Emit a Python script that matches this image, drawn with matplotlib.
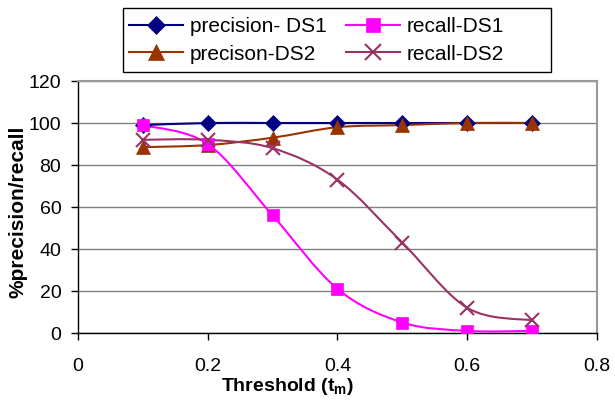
import matplotlib
matplotlib.use("Agg")
import matplotlib.pyplot as plt
from matplotlib.path import Path
from matplotlib.patches import PathPatch, Rectangle
from matplotlib.lines import Line2D

# data
threshold = [0.1, 0.2, 0.3, 0.4, 0.5, 0.6, 0.7]
precision_ds1 = [99, 100, 100, 100, 100, 100, 100]
recall_ds1 = [99, 90, 56, 21, 5, 1, 1]
precision_ds2 = [88.5, 89.5, 93, 98, 99, 100, 100]
recall_ds2 = [92, 92, 88, 73, 43, 12, 6]

plt.rcParams['font.family'] = ['Liberation Sans', 'DejaVu Sans']


def smooth_path(xs, ys):
    # excel-like smoothed line: cubic bezier segments (catmull-rom style)
    verts = [(xs[0], ys[0])]
    codes = [Path.MOVETO]
    n = len(xs)
    for i in range(n - 1):
        x0, y0 = (xs[i - 1], ys[i - 1]) if i > 0 else (xs[i], ys[i])
        x1, y1 = xs[i], ys[i]
        x2, y2 = xs[i + 1], ys[i + 1]
        x3, y3 = (xs[i + 2], ys[i + 2]) if i + 2 < n else (x2, y2)
        c1 = (x1 + (x2 - x0) / 6, y1 + (y2 - y0) / 6)
        c2 = (x2 - (x3 - x1) / 6, y2 - (y3 - y1) / 6)
        verts += [c1, c2, (x2, y2)]
        codes += [Path.CURVE4] * 3
    return Path(verts, codes)


series = [
    (precision_ds1, "precision- DS1", "#000080", "D", 8),
    (precision_ds2, "precison-DS2", "#993300", "^", 10),
    (recall_ds1, "recall-DS1", "#FF00FF", "s", 9),
    (recall_ds2, "recall-DS2", "#993366", "x", 10),
]

fig = plt.figure(figsize=(6.15, 4), dpi=100)
ax = fig.add_axes([0.1268, 0.1675, 0.8439, 0.63])

handles = []
for ys, label, col, mk, ms in series:
    mew = 1.5 if mk == 'x' else 0.5
    ax.add_patch(PathPatch(smooth_path(threshold, ys), facecolor='none',
                           edgecolor=col, lw=1.5, zorder=3))
    ax.plot(threshold, ys, linestyle='none', marker=mk, markersize=ms,
            color=col, markeredgewidth=mew, zorder=4)
    handles.append(Line2D([], [], color=col, lw=1.5, marker=mk,
                          markersize=ms, markeredgewidth=mew))

ax.set_xlim(0, 0.8)
ax.set_ylim(0, 120)
ax.set_xticks([0, 0.2, 0.4, 0.6, 0.8])
ax.set_xticklabels(["0", "0.2", "0.4", "0.6", "0.8"])
ax.set_yticks(range(0, 121, 20))
ax.tick_params(labelsize=14, length=5, width=1, direction='out')
ax.tick_params(axis='x', pad=13)
ax.tick_params(axis='y', pad=7)
ax.yaxis.grid(True, color='#808080', lw=1)
ax.set_axisbelow(True)

for s in ['top', 'right']:
    ax.spines[s].set_color('#999999')
    ax.spines[s].set_linewidth(1.5)
for s in ['left', 'bottom']:
    ax.spines[s].set_color('black')
    ax.spines[s].set_linewidth(1)

ax.set_xlabel(r"Threshold (t$_\mathregular{m}$)", fontsize=14, fontweight='bold')
ax.set_ylabel("%precision/recall", fontsize=15, fontweight='bold')
ax.xaxis.set_label_coords(0.403, -0.172)
ax.yaxis.set_label_coords(-0.098, 0.48)

# legend box drawn separately so it can be wider than its contents
fig.patches.append(Rectangle((0.2, 0.82), 0.696, 0.16, transform=fig.transFigure,
                             facecolor='white', edgecolor='black', lw=1, zorder=5))
leg = fig.legend(handles, [s[1] for s in series], ncol=2, loc='upper left',
                 bbox_to_anchor=(0.2, 0.972), frameon=False,
                 fontsize=15, handlelength=2.6,
                 borderaxespad=0, labelspacing=0.4, columnspacing=0.95,
                 handletextpad=0.3, borderpad=0.3, markerscale=1.15)
leg.set_zorder(6)

fig.savefig("out.png", dpi=100)
